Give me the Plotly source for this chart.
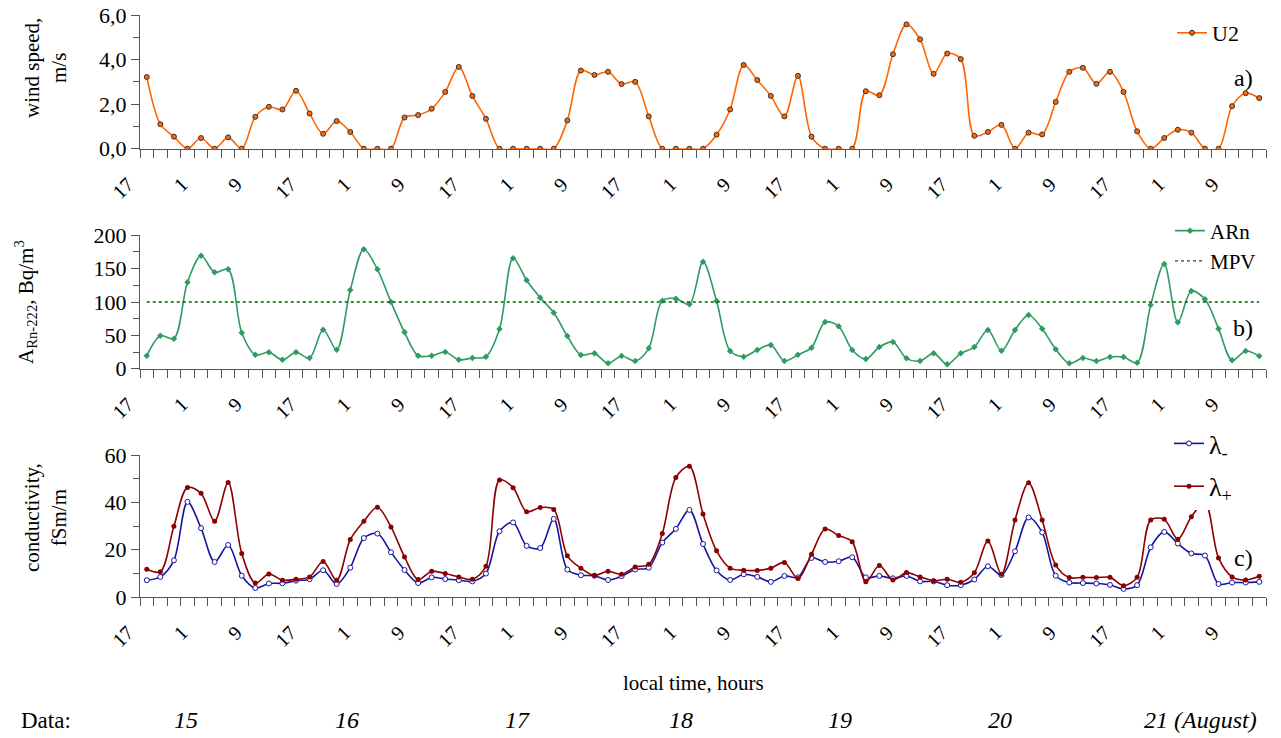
import plotly.graph_objects as go

# ---------------- data ----------------
# 83 two-hourly samples, 14 Aug 17h ... 21 Aug 13h
tick_pos = [0, 4, 8, 12, 16, 20, 24, 28, 32, 36, 40, 44, 48, 52, 56, 60, 64, 68, 72, 76, 80]
tick_labels = ["17", "1", "9", "17", "1", "9", "17", "1", "9", "17", "1", "9",
               "17", "1", "9", "17", "1", "9", "17", "1", "9"]

u2 = [3.22, 1.10, 0.54, 0.0, 0.48, 0.0, 0.51, 0.0, 1.43, 1.88, 1.76, 2.60, 1.58, 0.67,
      1.24, 0.75, 0.0, 0.0, 0.0, 1.40, 1.51, 1.79, 2.55, 3.67, 2.37, 1.34, 0.0, 0.0,
      0.0, 0.0, 0.0, 1.27, 3.51, 3.31, 3.45, 2.90, 3.00, 1.45, 0.0, 0.0, 0.0, 0.0,
      0.63, 1.76, 3.76, 3.08, 2.37, 1.45, 3.27, 0.54, 0.0, 0.0, 0.0, 2.58, 2.40, 4.24,
      5.58, 4.91, 3.36, 4.27, 4.02, 0.58, 0.75, 1.07, 0.0, 0.72, 0.64, 2.10, 3.45, 3.63,
      2.91, 3.45, 2.55, 0.78, 0.0, 0.48, 0.85, 0.72, 0.0, 0.0, 1.91, 2.49, 2.27]

arn = [19.5, 49.5, 45, 129.5, 169.4, 144.5, 149, 54, 21, 24.5, 13.5, 24.5, 16, 58.5,
       28.5, 118, 179, 149, 100, 54.5, 19.5, 19.5, 25, 13.5, 16, 18, 59.5, 165.5,
       132.5, 106.5, 84, 49, 20.5, 23, 8, 19, 11.5, 30.5, 102, 105, 96.5, 160.5,
       101.5, 26.5, 18, 28, 35.5, 11.5, 21, 31.5, 70, 63.5, 28, 14.5, 32.5, 40, 15.5,
       11.5, 23, 6.5, 23, 32.5, 58, 27, 58, 80.5, 60, 29, 8, 16, 11.5, 17.5, 17.5, 9,
       95.5, 157, 69.5, 116.5, 104, 60, 12.5, 26.5, 19]

mpv_value = 100

lam_minus = [7.1, 8.5, 15.5, 40.2, 29.1, 14.8, 22, 9, 3.8, 5.7, 5.8, 6.9, 7.5, 11.3,
             5.5, 12.4, 24.9, 26.8, 18.9, 11.4, 5.9, 8.3, 7.6, 7.1, 6.6, 9.9, 27.8,
             31.5, 21.6, 20.7, 33, 11.6, 9.2, 9, 7.2, 8.8, 11.6, 12.4, 23, 28.8, 36.8,
             22.4, 11.2, 7.2, 9.6, 8.5, 6.4, 8.9, 8.3, 16.5, 14.8, 15.1, 16.8, 8.3, 8.9,
             7.9, 8.9, 6.6, 6.6, 5, 5, 7.4, 13, 9.3, 19.3, 33.6, 27.3, 9, 6.1, 5.9, 5.7,
             5.1, 3.4, 5, 21, 27.5, 22.6, 18.4, 17.5, 5.5, 6.1, 6.1, 6.4]

lam_plus = [11.7, 10.7, 29.9, 46.3, 43.8, 32, 48.4, 18.4, 5.9, 9.7, 7.1, 7.5, 8.5, 15,
            7.1, 24.3, 32, 37.9, 29.6, 16.9, 7.4, 10.9, 9.9, 8.5, 7.5, 13, 49.4, 46.2,
            36, 37.8, 37, 17.4, 12.2, 9.1, 10.9, 9.6, 12.7, 13.8, 26.8, 50.5, 55.2,
            35.1, 19.5, 12.2, 11.3, 11.2, 12.2, 14.6, 7.8, 18.1, 28.7, 26, 23.3, 6.4,
            13.3, 7.2, 10.3, 8.5, 6.9, 7.5, 6.2, 10.2, 23.7, 9.6, 32.5, 48.3, 32.5, 13.5,
            8.2, 8.3, 8.2, 8.3, 4.8, 8.3, 32.5, 32.8, 24.4, 33.9, 40, 16.5, 8.5, 7.2, 8.8]

ya_vals = [0, 2, 4, 6]
ya_text = ["0,0", "2,0", "4,0", "6,0"]
yb_vals = [0, 50, 100, 150, 200]
yc_vals = [0, 20, 40, 60]

day_labels = ["15", "16", "17", "18", "19", "20", "21 (August)"]

# ---------------- layout helpers ----------------
W, H = 1281, 738
L, R, T, B = 140, 15, 15, 141
PW, PH = W - L - R, H - T - B


def px(x):
    return (x - L) / PW


def py(y):
    return (H - B - y) / PH


x = list(range(len(u2)))
FONT = "Liberation Serif, DejaVu Serif, serif"

fig = go.Figure()
fig.add_trace(go.Scatter(
    x=x, y=u2, name="U2", mode="lines+markers", xaxis="x", yaxis="y", legend="legend",
    line=dict(color="#FF6600", width=1.6, shape="spline", smoothing=0.9),
    marker=dict(size=5, color="#FF6600", line=dict(color="#333333", width=1))))
fig.add_trace(go.Scatter(
    x=x, y=arn, name="ARn", mode="lines+markers", xaxis="x2", yaxis="y2",
    legend="legend2", legendgroup="a",
    line=dict(color="#2E9B62", width=1.6, shape="spline", smoothing=0.9),
    marker=dict(size=5, symbol="diamond", color="#2E9B62")))
fig.add_trace(go.Scatter(
    x=x, y=[mpv_value] * len(x), name="MPV", mode="lines", xaxis="x2", yaxis="y2",
    legend="legend2", legendgroup="b",
    line=dict(color="#006400", width=1.3, dash="dot")))
fig.add_trace(go.Scatter(
    x=x, y=lam_minus, name="λ<sub>-</sub>", mode="lines+markers", xaxis="x3", yaxis="y3",
    legend="legend3", legendgroup="c",
    line=dict(color="#1515A0", width=1.6, shape="spline", smoothing=0.9),
    marker=dict(size=5, color="white", line=dict(color="#1515A0", width=1))))
fig.add_trace(go.Scatter(
    x=x, y=lam_plus, name="λ<sub>+</sub>", mode="lines+markers", xaxis="x3", yaxis="y3",
    legend="legend3", legendgroup="d",
    line=dict(color="#8B0000", width=1.6, shape="spline", smoothing=0.9),
    marker=dict(size=5, color="#8B0000")))

AXC = "#555555"
xtickfont = dict(family=FONT, size=20, color="black")
ytickfont = dict(family=FONT, size=22, color="black")


def xaxis(anchor):
    return dict(
        domain=[0, 1], anchor=anchor, range=[-0.5, len(x) - 0.5],
        tickmode="array", tickvals=tick_pos, ticktext=tick_labels, tickangle=-45,
        ticks="outside", ticklen=15, tickcolor="rgba(0,0,0,0)", ticklabelshift=-19,
        showline=True, linecolor=AXC, linewidth=1.2, showgrid=False, zeroline=False,
        tickfont=xtickfont, automargin=False,
        minor=dict(tickmode="linear", tick0=-0.5, dtick=1, ticks="outside", ticklen=8,
                   tickcolor=AXC, tickwidth=1, showgrid=False))


def yaxis(anchor, domain, rng, vals, text, minor_dt):
    return dict(
        domain=domain, anchor=anchor, range=rng, tickmode="array", tickvals=vals,
        ticktext=text, ticks="outside", ticklen=8, tickcolor=AXC, showline=True,
        linecolor=AXC, linewidth=1.2, showgrid=False, zeroline=False, tickfont=ytickfont,
        automargin=False,
        minor=dict(tickmode="linear", tick0=0, dtick=minor_dt, ticks="outside",
                   ticklen=6, tickcolor=AXC, showgrid=False))


fig.update_layout(
    width=W, height=H, margin=dict(l=L, r=R, t=T, b=B, autoexpand=False),
    paper_bgcolor="white", plot_bgcolor="white",
    font=dict(family=FONT, size=20, color="black"),
    xaxis=xaxis("y"), xaxis2=xaxis("y2"), xaxis3=xaxis("y3"),
    yaxis=yaxis("x", [py(148.7), 1.0], [0, 6], ya_vals, ya_text, 1),
    yaxis2=yaxis("x2", [py(368.7), py(235.3)], [0, 200], yb_vals,
                 [str(v) for v in yb_vals], 25),
    yaxis3=yaxis("x3", [0.0, py(455)], [0, 60], yc_vals, [str(v) for v in yc_vals], 10),
    legend=dict(x=px(1172), xanchor="left", y=py(33), yanchor="middle",
                bgcolor="rgba(0,0,0,0)", font=dict(family=FONT, size=22)),
    legend2=dict(x=px(1170), xanchor="left", y=py(246), yanchor="middle",
                 bgcolor="rgba(0,0,0,0)", font=dict(family=FONT, size=21),
                 traceorder="grouped", tracegroupgap=0),
    legend3=dict(x=px(1169), xanchor="left", y=py(510), yanchor="bottom",
                 bgcolor="white", font=dict(family=FONT, size=26),
                 traceorder="grouped", tracegroupgap=6),
    showlegend=True,
)

ann = []
# axis titles
ann.append(dict(text="wind speed,<br>m/s", x=px(45), y=py(68), textangle=-90,
                font=dict(size=21)))
ann.append(dict(text="A<sub>Rn-222</sub>, Bq/m<sup>3</sup>", x=px(25), y=py(302),
                textangle=-90, font=dict(size=21)))
ann.append(dict(text="conductivity,<br>fSm/m", x=px(45), y=py(518), textangle=-90,
                font=dict(size=21)))
# panel letters
for t_, yy in (("a)", 78), ("b)", 328), ("c)", 558)):
    ann.append(dict(text=t_, x=px(1243), y=py(yy), font=dict(size=24)))
ann.append(dict(text="local time, hours", x=px(693), y=py(683), font=dict(size=21)))
ann.append(dict(text="Data:", x=px(19), xanchor="left", y=py(720), font=dict(size=23)))
day_x = [186, 347, 517, 681, 840, 1000, 1200]
for lbl, xx in zip(day_labels, day_x):
    ann.append(dict(text="<i>" + lbl + "</i>", x=px(xx), y=py(720), font=dict(size=24)))
for a in ann:
    a.setdefault("xref", "paper")
    a.setdefault("yref", "paper")
    a.setdefault("showarrow", False)
    a.setdefault("xanchor", "center")
    a.setdefault("yanchor", "middle")
fig.update_layout(annotations=ann)

fig.write_html("out.html", config={"displayModeBar": False},
               post_script="document.body.style.margin='0';")
